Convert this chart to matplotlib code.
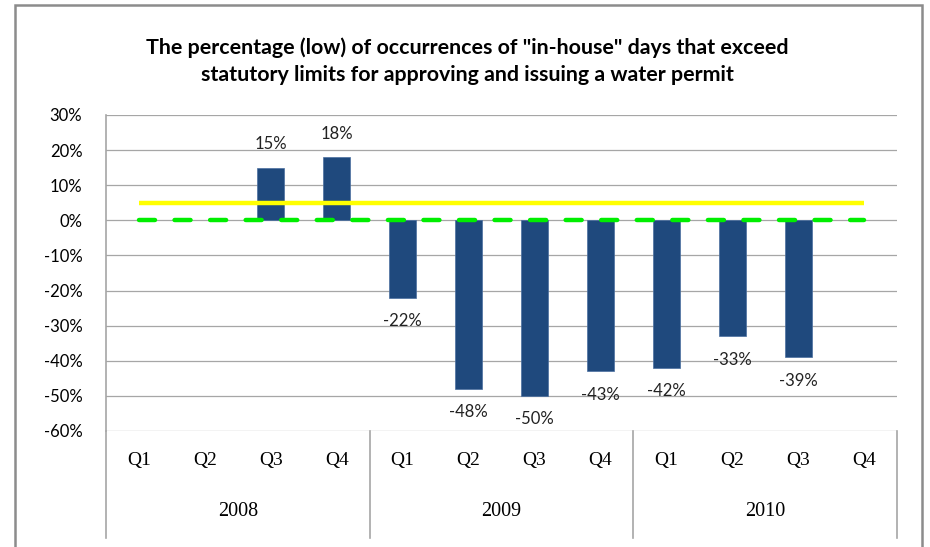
import matplotlib
matplotlib.use('Agg')
import matplotlib.pyplot as plt
from matplotlib.patches import Rectangle
from matplotlib.ticker import FuncFormatter

# quarterly values (percent), None = no bar
quarters = ['Q1', 'Q2', 'Q3', 'Q4'] * 3
years = ['2008', '2009', '2010']
values = [None, None, 15, 18, -22, -48, -50, -43, -42, -33, -39, None]
target = [5] * 12
baseline = [0] * 12

title = ('The percentage (low) of occurrences of "in-house" days that exceed\n'
         'statutory limits for approving and issuing a water permit')

W, H = 930, 547
fig = plt.figure(figsize=(W / 100, H / 100), dpi=100)

# axes box in pixels: left 106, right 897, top 115, bottom 431
ax = fig.add_axes([106 / W, 1 - 431 / H, (897 - 106) / W, (431 - 115) / H])

x = list(range(len(values)))
grid_col = '#a6a6a6'
bar_col = '#1f497d'

for yv in range(-60, 31, 10):
    ax.axhline(yv, color=grid_col, lw=0.9, zorder=0)

bx = [i for i, v in enumerate(values) if v is not None]
bv = [v for v in values if v is not None]
ax.bar(bx, bv, width=0.41, color=bar_col, edgecolor='#4a6fa0', lw=0.5, zorder=2)

ax.plot(x, target, color='#ffff00', lw=3.2, zorder=3, solid_capstyle='butt')
ax.plot(x, baseline, color='#00ee00', lw=3.2, zorder=4,
        dashes=(3.6, 4.4), dash_capstyle='round')

for i, v in zip(bx, bv):
    off = 17 if v > 0 else -17
    ax.annotate(f'{v}%', (i, v), xytext=(0, off), textcoords='offset points',
                ha='center', va='center', fontsize=12, family='Lato',
                color='#222222', zorder=5)

ax.set_xlim(-0.5, len(values) - 0.5)
ax.set_ylim(-60, 30)
ax.set_yticks(range(-60, 31, 10))
ax.yaxis.set_major_formatter(FuncFormatter(lambda v, p: f'{int(v)}%'))
ax.tick_params(axis='y', length=0, pad=17, labelsize=12)
for t in ax.get_yticklabels():
    t.set_family('Lato')
ax.set_xticks([])
for s in ax.spines.values():
    s.set_visible(False)

# category axis below the plot
tr = ax.get_xaxis_transform()
for i, q in enumerate(quarters):
    ax.text(i, -0.092, q, transform=tr, ha='center', va='center',
            fontsize=14, family='Liberation Serif', clip_on=False)
for k, yr in enumerate(years):
    ax.text(k * 4 + 1.5, -0.256, yr, transform=tr, ha='center', va='center',
            fontsize=14.5, family='Liberation Serif', clip_on=False)
for k in range(len(years) + 1):
    ax.plot([k * 4 - 0.5] * 2, [-0.339, 0], transform=tr, color=grid_col,
            lw=1.2, clip_on=False)
ax.plot([-0.5, -0.5], [0, 1], transform=tr, color=grid_col, lw=1.2, clip_on=False)

fig.text(467 / W, 1 - 61 / H, title, ha='center', va='center',
         fontsize=15.4, fontweight='bold', family='Lato', linespacing=1.45)

# outer chart border
fig.patches.append(Rectangle((15 / W, -0.05), (922 - 15) / W, 1.05 - 5 / H,
                             transform=fig.transFigure, fill=False,
                             edgecolor='#8c8c8c', lw=1.8))

fig.savefig('out.png', dpi=100)
